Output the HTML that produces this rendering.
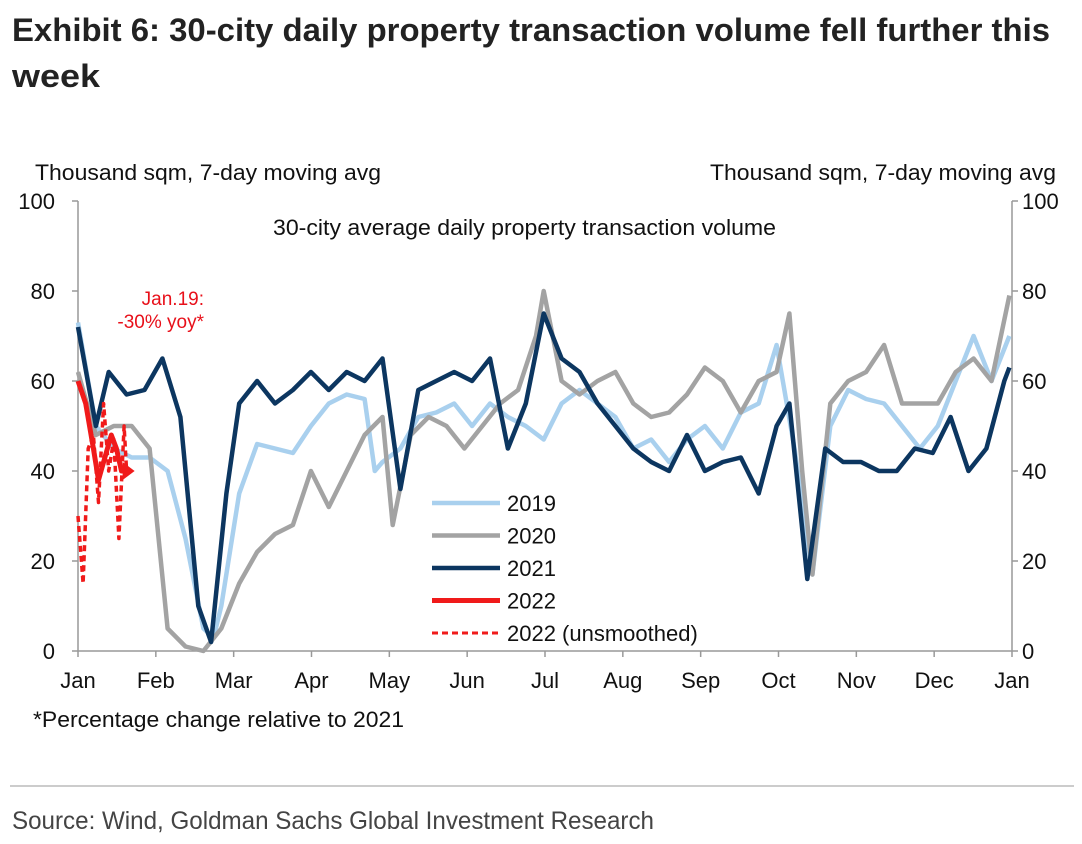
<!DOCTYPE html>
<html><head><meta charset="utf-8"><style>
html,body{margin:0;padding:0;background:#fff;}
svg{display:block;font-family:"Liberation Sans",sans-serif;}
</style></head><body>
<svg id="chart" width="1082" height="844" viewBox="0 0 1082 844" xmlns="http://www.w3.org/2000/svg">
<text x="12" y="41" font-size="32" font-weight="bold" fill="#222" textLength="1038" lengthAdjust="spacingAndGlyphs">Exhibit 6: 30-city daily property transaction volume fell further this</text>
<text x="12" y="87" font-size="32" font-weight="bold" fill="#222" textLength="88" lengthAdjust="spacingAndGlyphs">week</text>
<text x="35" y="180" font-size="22" fill="#111" textLength="346" lengthAdjust="spacingAndGlyphs">Thousand sqm, 7-day moving avg</text>
<text x="710" y="180" font-size="22" fill="#111" textLength="346" lengthAdjust="spacingAndGlyphs">Thousand sqm, 7-day moving avg</text>
<text x="273" y="235" font-size="22" fill="#111" textLength="503" lengthAdjust="spacingAndGlyphs">30-city average daily property transaction volume</text>
<g id="axes"></g>
<g id="series"></g>
<text x="204" y="305" font-size="19" fill="#e8101a" text-anchor="end">Jan.19:</text>
<text x="204" y="328" font-size="19" fill="#e8101a" text-anchor="end">-30% yoy*</text>
<g id="legend"></g>
<text x="33" y="727" font-size="22" fill="#111" textLength="371" lengthAdjust="spacingAndGlyphs">*Percentage change relative to 2021</text>
<line x1="10" y1="786" x2="1074" y2="786" stroke="#999" stroke-width="1"/>
<text x="12" y="829" font-size="25" fill="#444" textLength="642" lengthAdjust="spacingAndGlyphs">Source: Wind, Goldman Sachs Global Investment Research</text>
</svg>
<script>
const months = ["Jan","Feb","Mar","Apr","May","Jun","Jul","Aug","Sep","Oct","Nov","Dec","Jan"];
const yTicks = [0,20,40,60,80,100];
const days2019 = [0,7,14,21,28,35,42,49,53,56,63,70,77,84,91,98,105,112,116,119,126,133,140,147,154,161,168,175,182,189,196,203,210,217,224,231,238,245,252,259,266,273,280,287,294,301,308,315,322,329,336,343,350,357,364];
const vals2019 = [73,50,45,43,43,40,25,5,3,10,35,46,45,44,50,55,57,56,40,42,45,52,53,55,50,55,52,50,47,55,58,55,52,45,47,42,47,50,45,53,55,68,45,17,50,58,56,55,50,45,50,60,70,60,70];
const days2020 = [0,7,14,21,28,35,42,49,56,63,70,77,84,91,98,105,112,119,123,130,137,144,151,158,165,172,179,182,189,196,203,210,217,224,231,238,245,252,259,266,273,278,283,287,294,301,308,315,322,329,336,343,350,357,364];
const vals2020 = [62,48,50,50,45,5,1,0,5,15,22,26,28,40,32,40,48,52,28,48,52,50,45,50,55,58,70,80,60,57,60,62,55,52,53,57,63,60,53,60,62,75,40,17,55,60,62,68,55,55,55,62,65,60,79];
const days2021 = [0,7,12,19,26,33,40,47,52,58,63,70,77,84,91,98,105,112,119,126,133,140,147,154,161,168,175,182,189,196,203,210,217,224,231,238,245,252,259,266,273,278,285,292,299,306,313,320,327,334,341,348,355,362,364];
const vals2021 = [72,50,62,57,58,65,52,10,2,35,55,60,55,58,62,58,62,60,65,36,58,60,62,60,65,45,55,75,65,62,55,50,45,42,40,48,40,42,43,35,50,55,16,45,42,42,40,40,45,44,52,40,45,60,63];
const days2022 = [0,3,6,8,10,13,15,17,19];
const vals2022 = [60,55,45,38,42,48,45,40,40];
const daysRaw = [0,2,4,6,8,10,12,14,16,18,19];
const valsRaw = [30,15,45,48,33,55,40,47,25,50,40];

const NS="http://www.w3.org/2000/svg";
const X0=78,X1=1012,Y0=651,Y1=201;
const xS=d=>X0+(X1-X0)*d/365;
const yS=v=>Y0-(Y0-Y1)*v/100;
function mk(tag,attrs,parent){const e=document.createElementNS(NS,tag);for(const k in attrs)e.setAttribute(k,attrs[k]);parent.appendChild(e);return e;}
const axes=document.getElementById('axes');
let a=mk('line',{x1:X0,y1:Y1,x2:X0,y2:Y0,stroke:'#999','stroke-width':1.5},axes);

a=mk('line',{x1:X1,y1:Y1,x2:X1,y2:Y0,stroke:'#999','stroke-width':1.5},axes);

a=mk('line',{x1:X0,y1:Y0,x2:X1,y2:Y0,stroke:'#999','stroke-width':1.5},axes);

yTicks.forEach(v=>{
  const y=yS(v);
  mk('line',{x1:X0-6,y1:y,x2:X0,y2:y,stroke:'#999','stroke-width':1.5},axes);
  mk('line',{x1:X1,y1:y,x2:X1+6,y2:y,stroke:'#999','stroke-width':1.5},axes);
  let t=mk('text',{x:X0-23,y:y+8,'font-size':22,'text-anchor':'end',fill:'#111'},axes);t.textContent=v;
  
  t=mk('text',{x:X1+10,y:y+8,'font-size':22,fill:'#111'},axes);t.textContent=v;
  
});
months.forEach((m,i)=>{
  const x=X0+(X1-X0)*i/12;
  mk('line',{x1:x,y1:Y0,x2:x,y2:Y0+6,stroke:'#999','stroke-width':1.5},axes);
  const t=mk('text',{x:x,y:Y0+37,'font-size':22,'text-anchor':'middle',fill:'#111'},axes);t.textContent=m;
  
});
const ser=document.getElementById('series');
function line(days,vals,color,w,name,dash){
  const d=days.map((dd,i)=>(i?'L':'M')+xS(dd).toFixed(1)+','+yS(vals[i]).toFixed(1)).join('');
  const p=mk('path',{d:d,fill:'none',stroke:color,'stroke-width':w,'stroke-linejoin':'round'},ser);
  if(dash)p.setAttribute('stroke-dasharray',dash);
  
}
line(days2019,vals2019,'#a9d0ee',4.5,'series-2019');
line(days2020,vals2020,'#a3a3a3',4.5,'series-2020');
line(days2021,vals2021,'#0c3660',4.5,'series-2021');
line(daysRaw,valsRaw,'#f01a1a',3.5,'series-2022-unsmoothed','6,4');
line(days2022,vals2022,'#f01a1a',5,'series-2022');
const lastD=days2022[days2022.length-1],lastV=vals2022[vals2022.length-1];
const ar=mk('path',{d:`M${xS(lastD)-4},${yS(lastV)-9}L${xS(lastD)+8},${yS(lastV)}L${xS(lastD)-4},${yS(lastV)+9}Z`,fill:'#f01a1a'},ser);

const leg=document.getElementById('legend');
const legItems=[["2019",'#a9d0ee',4.5,null],["2020",'#a3a3a3',4.5,null],["2021",'#0c3660',4.5,null],["2022",'#f01a1a',5,null],["2022 (unsmoothed)",'#f01a1a',3,'6,4']];
legItems.forEach((it,i)=>{
  const y=503+i*32.5;
  const g=mk('g',{},leg);
  
  const l=mk('line',{x1:432,y1:y,x2:500,y2:y,stroke:it[1],'stroke-width':it[2]},g);
  if(it[3])l.setAttribute('stroke-dasharray',it[3]);
  const t=mk('text',{x:507,y:y+8,'font-size':22,fill:'#111'},g);t.textContent=it[0];
});
</script>
</body></html>
